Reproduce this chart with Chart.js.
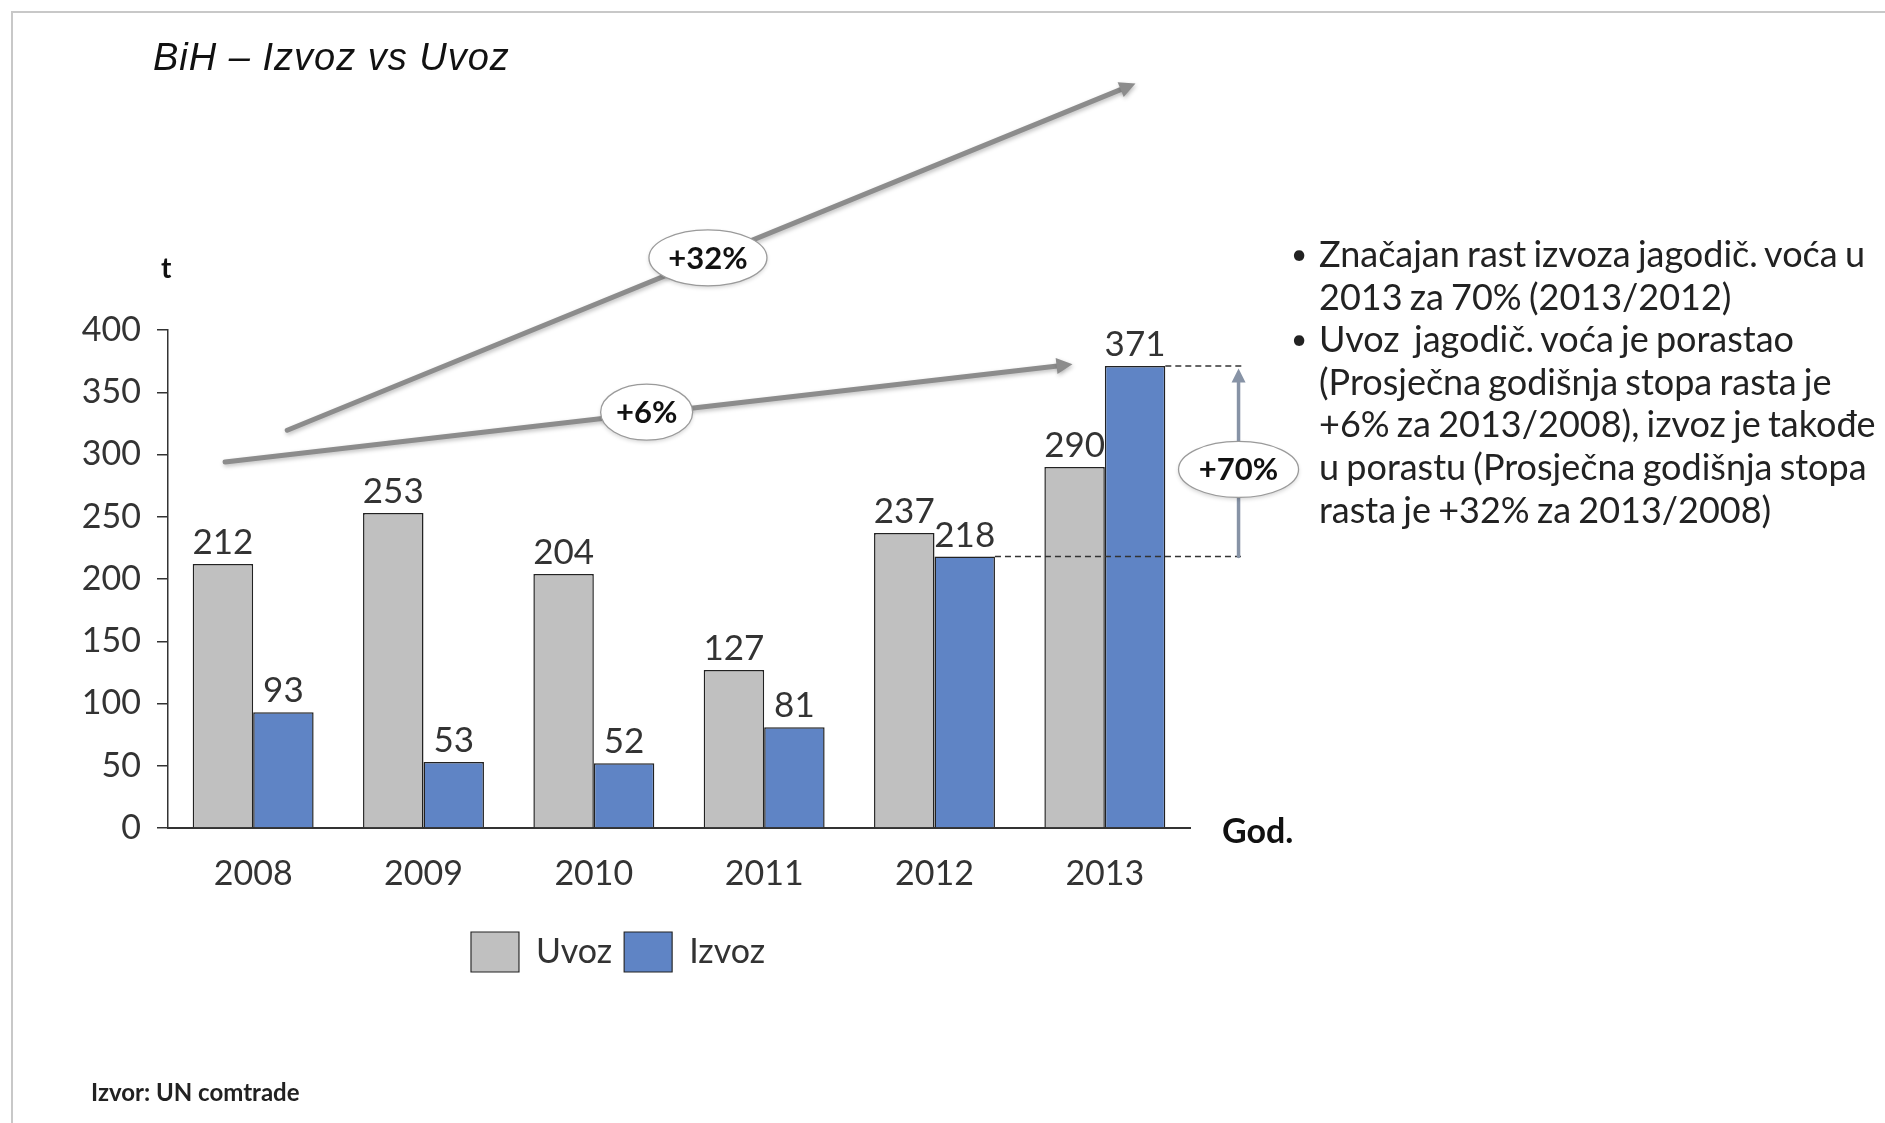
<!DOCTYPE html>
<html>
<head>
<meta charset="utf-8">
<script src="https://cdn.jsdelivr.net/npm/chart.js@4.4.1/dist/chart.umd.min.js"></script>
<style>
  html, body { margin: 0; padding: 0; background: #fff; }
  body { width: 1885px; height: 1123px; position: relative; overflow: hidden; font-family: Lato, "Noto Sans", sans-serif; color: #222; }
  #frame { position: absolute; left: 11px; top: 11px; width: 1900px; height: 1200px; border-left: 2px solid #c8c8c8; border-top: 2px solid #c8c8c8; }
  #chart { position: absolute; left: 0; top: 0; }
  .txt { position: absolute; white-space: nowrap; }
  #title { left: 153px; top: 35px; font: italic 38px/44px "Liberation Sans", Arial, sans-serif; letter-spacing: 1px; color: #111; }
  #unit { left: 161px; top: 251px; font: bold 28px/32px Lato, sans-serif; color: #111; }
  #god { left: 1222px; top: 811px; font: bold 34px/38px Lato, sans-serif; color: #111; }
  #src { left: 91px; top: 1078px; font: bold 24px/28px Lato, sans-serif; color: #222; }
  #notes { position: absolute; left: 1319px; top: 232px; font: 36px/42.6px Lato, sans-serif; word-spacing: -2px; color: #222; }
  #notes p { margin: 0; position: relative; white-space: nowrap; }
  #notes p::before { content: "\2022"; position: absolute; left: -28px; top: 0; font-size: 28px; }
</style>
</head>
<body>
<div id="frame"></div>
<canvas id="chart" width="1885" height="1123"></canvas>
<div class="txt" id="title">BiH – Izvoz vs Uvoz</div>
<div class="txt" id="unit">t</div>
<div class="txt" id="god">God.</div>
<div class="txt" id="src">Izvor: UN comtrade</div>
<div id="notes">
  <p>Značajan rast izvoza jagodič. voća u<br>2013 za 70% (2013/2012)</p>
  <p>Uvoz&nbsp; jagodič. voća je porastao<br>(Prosječna godišnja stopa rasta je<br>+6% za 2013/2008), izvoz je takođe<br>u porastu (Prosječna godišnja stopa<br>rasta je +32% za 2013/2008)</p>
</div>
<script>
// podaci
var godine = ['2008', '2009', '2010', '2011', '2012', '2013'];
var uvoz = [212, 253, 204, 127, 237, 290];
var izvoz = [93, 53, 52, 81, 218, 371];
var yMin = 0, yMax = 400, yStep = 50;

var fontFam = 'Lato, "Noto Sans", sans-serif';

// vrijednosti iznad stupaca
var valueLabels = {
  id: 'valueLabels',
  afterDatasetsDraw: function(chart) {
    var ctx = chart.ctx;
    ctx.save();
    ctx.font = '35px ' + fontFam;
    ctx.fillStyle = '#333';
    ctx.textAlign = 'center';
    ctx.textBaseline = 'alphabetic';
    chart.data.datasets.forEach(function(ds, i) {
      chart.getDatasetMeta(i).data.forEach(function(bar, j) {
        ctx.fillText(ds.data[j], bar.x, bar.y - 10);
      });
    });
    ctx.restore();
  }
};

function arrow(ctx, x1, y1, x2, y2, w, color, head) {
  var a = Math.atan2(y2 - y1, x2 - x1);
  ctx.strokeStyle = color;
  ctx.fillStyle = color;
  ctx.lineWidth = w;
  ctx.lineCap = 'round';
  ctx.beginPath();
  ctx.moveTo(x1, y1);
  ctx.lineTo(x2 - Math.cos(a) * head * 0.8, y2 - Math.sin(a) * head * 0.8);
  ctx.stroke();
  ctx.beginPath();
  ctx.moveTo(x2, y2);
  ctx.lineTo(x2 - Math.cos(a) * head + Math.sin(a) * head * 0.5, y2 - Math.sin(a) * head - Math.cos(a) * head * 0.5);
  ctx.lineTo(x2 - Math.cos(a) * head - Math.sin(a) * head * 0.5, y2 - Math.sin(a) * head + Math.cos(a) * head * 0.5);
  ctx.closePath();
  ctx.fill();
}

function bubble(ctx, cx, cy, rx, ry, text) {
  ctx.save();
  ctx.shadowColor = 'rgba(0,0,0,0.18)';
  ctx.shadowBlur = 4;
  ctx.shadowOffsetY = 2;
  ctx.beginPath();
  ctx.ellipse(cx, cy, rx, ry, 0, 0, Math.PI * 2);
  ctx.fillStyle = '#fff';
  ctx.fill();
  ctx.restore();
  ctx.beginPath();
  ctx.ellipse(cx, cy, rx, ry, 0, 0, Math.PI * 2);
  ctx.strokeStyle = '#9a9a9a';
  ctx.lineWidth = 1.3;
  ctx.stroke();
  ctx.fillStyle = '#111';
  ctx.font = 'bold 31px ' + fontFam;
  ctx.textAlign = 'center';
  ctx.textBaseline = 'middle';
  ctx.fillText(text, cx, cy + 1);
}

// strelice, isprekidane linije i oznake rasta
var rast = {
  id: 'rast',
  afterDraw: function(chart) {
    var ctx = chart.ctx;
    var x = chart.scales.x, y = chart.scales.y;
    var izMeta = chart.getDatasetMeta(1).data;
    var b12 = izMeta[4], b13 = izMeta[5];
    var xr = x.getPixelForValue(5.81);
    ctx.save();

    // isprekidane linije 218 / 371
    ctx.setLineDash([6, 4]);
    ctx.strokeStyle = '#333';
    ctx.lineWidth = 1.5;
    ctx.beginPath();
    ctx.moveTo(b13.x + b13.width / 2, y.getPixelForValue(izvoz[5]));
    ctx.lineTo(xr, y.getPixelForValue(izvoz[5]));
    ctx.moveTo(b12.x + b12.width / 2, y.getPixelForValue(izvoz[4]));
    ctx.lineTo(xr, y.getPixelForValue(izvoz[4]));
    ctx.stroke();
    ctx.setLineDash([]);

    // okomita strelica +70%
    var xv = x.getPixelForValue(5.785);
    arrow(ctx, xv, y.getPixelForValue(izvoz[4]), xv, y.getPixelForValue(izvoz[5] - 2), 3.5, '#8793a6', 14);

    // kose strelice
    ctx.save();
    ctx.shadowColor = 'rgba(0,0,0,0.25)';
    ctx.shadowBlur = 4;
    ctx.shadowOffsetX = 1;
    ctx.shadowOffsetY = 2;
    arrow(ctx, x.getPixelForValue(-0.165), y.getPixelForValue(294), x.getPixelForValue(4.81), y.getPixelForValue(372.5), 5, '#8c8c8c', 16);
    arrow(ctx, x.getPixelForValue(0.20), y.getPixelForValue(319.5), x.getPixelForValue(5.18), y.getPixelForValue(598), 5, '#8c8c8c', 16);
    ctx.restore();

    bubble(ctx, x.getPixelForValue(2.67), y.getPixelForValue(458), 59, 28, '+32%');
    bubble(ctx, x.getPixelForValue(2.31), y.getPixelForValue(334), 46, 28, '+6%');
    bubble(ctx, xv, y.getPixelForValue(288), 60, 28, '+70%');
    ctx.restore();
  }
};

var chart = new Chart(document.getElementById('chart'), {
  type: 'bar',
  data: {
    labels: godine,
    datasets: [{
      label: 'Uvoz',
      data: uvoz,
      backgroundColor: '#c0c0c0',
      borderColor: '#222',
      borderWidth: { top: 1.5, left: 1.5, right: 1.5, bottom: 0 }
    }, {
      label: 'Izvoz',
      data: izvoz,
      backgroundColor: '#5f84c5',
      borderColor: '#222',
      borderWidth: { top: 1.5, left: 1.5, right: 1.5, bottom: 0 }
    }]
  },
  options: {
    responsive: false,
    animation: false,
    devicePixelRatio: 1,
    events: [],
    categoryPercentage: 0.71,
    barPercentage: 1.0,
    layout: { padding: { left: 46, right: 695, top: 330, bottom: 141 } },
    plugins: {
      title: { display: false },
      tooltip: { enabled: false },
      legend: {
        position: 'bottom',
        labels: {
          boxWidth: 48,
          boxHeight: 40,
          padding: 12,
          color: '#333',
          font: { family: fontFam, size: 34 }
        }
      }
    },
    scales: {
      x: {
        grid: { display: false, drawTicks: false },
        border: { display: true, color: '#333', width: 2 },
        ticks: { color: '#333', padding: 26, font: { family: fontFam, size: 34 } },
        afterFit: function(s) { s.height = 92; }
      },
      y: {
        min: yMin,
        max: yMax,
        grid: { display: true, drawOnChartArea: false, drawTicks: true, tickLength: 11, color: '#333', lineWidth: 1.5 },
        border: { display: true, color: '#333', width: 1.5 },
        ticks: { stepSize: yStep, color: '#333', padding: 16, font: { family: fontFam, size: 34 } },
        afterFit: function(s) { s.width = 122; }
      }
    }
  },
  plugins: [valueLabels, rast]
});
</script>
</body>
</html>
